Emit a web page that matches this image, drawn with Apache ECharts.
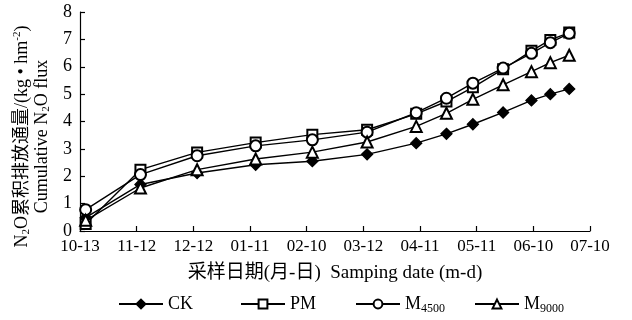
<!DOCTYPE html>
<html>
<head>
<meta charset="utf-8">
<script src="https://cdn.jsdelivr.net/npm/echarts@6/dist/echarts.min.js"></script>
<style>html,body{margin:0;padding:0;background:#fff}#c{width:632px;height:320px}</style>
</head>
<body>
<div id="c"></div>
<script>
// Tick labels (every 30 days starting 10-13)
var tickLabels = ['10-13','11-12','12-12','01-11','02-10','03-12','04-11','05-11','06-10','07-10'];
// Sampling day (days after 10-13)
var sampleDays = [3, 32, 62, 93, 123, 152, 178, 194, 208, 224, 239, 249, 259];
var CK    = [0.49, 1.70, 2.12, 2.42, 2.55, 2.80, 3.21, 3.55, 3.90, 4.33, 4.77, 5.00, 5.19];
var PM    = [0.26, 2.24, 2.87, 3.23, 3.52, 3.70, 4.28, 4.73, 5.25, 5.91, 6.58, 6.98, 7.25];
var M4500 = [0.78, 2.06, 2.75, 3.11, 3.33, 3.61, 4.32, 4.85, 5.40, 5.95, 6.49, 6.88, 7.22];
var M9000 = [0.39, 1.57, 2.24, 2.63, 2.88, 3.25, 3.82, 4.30, 4.81, 5.34, 5.82, 6.15, 6.42];
var seriesNames = ['CK', 'PM', 'M4500', 'M9000'];

function pairs(vals) { return sampleDays.map(function (d, i) { return [d, vals[i]]; }); }

var FONT = "'Liberation Serif', 'Noto Sans CJK SC', serif";
var chart = echarts.init(document.getElementById('c'), null, {renderer: 'canvas'});

function mkSeries(name, vals, symbol, size) {
  return {
    name: name, type: 'line', data: pairs(vals),
    symbol: symbol, symbolSize: size, showSymbol: true,
    lineStyle: {color: '#000', width: 1.4},
    itemStyle: {color: '#000', borderColor: '#000', borderWidth: 1.3},
    emphasis: {disabled: true},
    animation: false
  };
}

var legendRich = {
  n: {fontFamily: FONT, fontSize: 18, color: '#000'},
  s: {fontFamily: FONT, fontSize: 12, color: '#000', verticalAlign: 'bottom', padding: [9, 0, 0, 0]}
};
function legendFmt(name) {
  if (name === 'M4500') return '{n|M}{s|4500}';
  if (name === 'M9000') return '{n|M}{s|9000}';
  return '{n|' + name + '}';
}
var legendLefts = [118, 240, 355, 474];

chart.setOption({
  backgroundColor: '#fff',
  animation: false,
  grid: {left: 80, right: 42, top: 12, bottom: 89, containLabel: false, outerBoundsMode: 'none'},
  legend: seriesNames.map(function (n, i) {
    return {
      data: [n], left: legendLefts[i], top: 295, padding: 0,
      itemWidth: 44, itemHeight: 11, itemGap: 5,
      formatter: legendFmt,
      textStyle: {fontFamily: FONT, fontSize: 18, color: '#000', rich: legendRich},
      selectedMode: false
    };
  }),
  xAxis: {
    type: 'value', min: 0, max: 270, interval: 30,
    name: '采样日期(月-日)  Samping date (m-d)',
    nameLocation: 'middle', nameGap: 33,
    nameTextStyle: {fontFamily: FONT, fontSize: 19, color: '#000'},
    axisLine: {lineStyle: {color: '#000', width: 1.2}},
    axisTick: {inside: true, length: 5, lineStyle: {color: '#000', width: 1.2}},
    axisLabel: {
      fontFamily: FONT, fontSize: 17, color: '#000', margin: 7,
      formatter: function (v) { return tickLabels[Math.round(v / 30)] || ''; }
    },
    splitLine: {show: false}
  },
  yAxis: {
    type: 'value', min: 0, max: 8, interval: 1,
    name: '{t|N}{sub|2}{t|O累积排放通量/(kg • hm}{sup|-2}{t|)}\n{t|Cumulative N}{sub|2}{t|O flux}',
    nameLocation: 'middle', nameRotate: 90, nameGap: 27,
    nameTextStyle: {
      fontFamily: FONT, fontSize: 18, color: '#000', lineHeight: 20,
      padding: [0, 30, 0, 0],
      rich: {
        t: {fontFamily: FONT, fontSize: 18, color: '#000', lineHeight: 20},
        sub: {fontFamily: FONT, fontSize: 11, color: '#000', verticalAlign: 'bottom', lineHeight: 20, padding: [6, 0, 0, 0]},
        sup: {fontFamily: FONT, fontSize: 11, color: '#000', verticalAlign: 'top', lineHeight: 20, padding: [0, 0, 8, 0]}
      }
    },
    axisLine: {show: true, lineStyle: {color: '#000', width: 1.2}},
    axisTick: {show: true, inside: true, length: 5, lineStyle: {color: '#000', width: 1.2}},
    axisLabel: {fontFamily: FONT, fontSize: 18, color: '#000', margin: 8},
    splitLine: {show: false}
  },
  series: [
    mkSeries('CK', CK, 'diamond', 11),
    mkSeries('PM', PM, 'emptyRect', 10),
    mkSeries('M4500', M4500, 'emptyCircle', 11),
    mkSeries('M9000', M9000, 'emptyTriangle', 11)
  ]
});
</script>
</body>
</html>
